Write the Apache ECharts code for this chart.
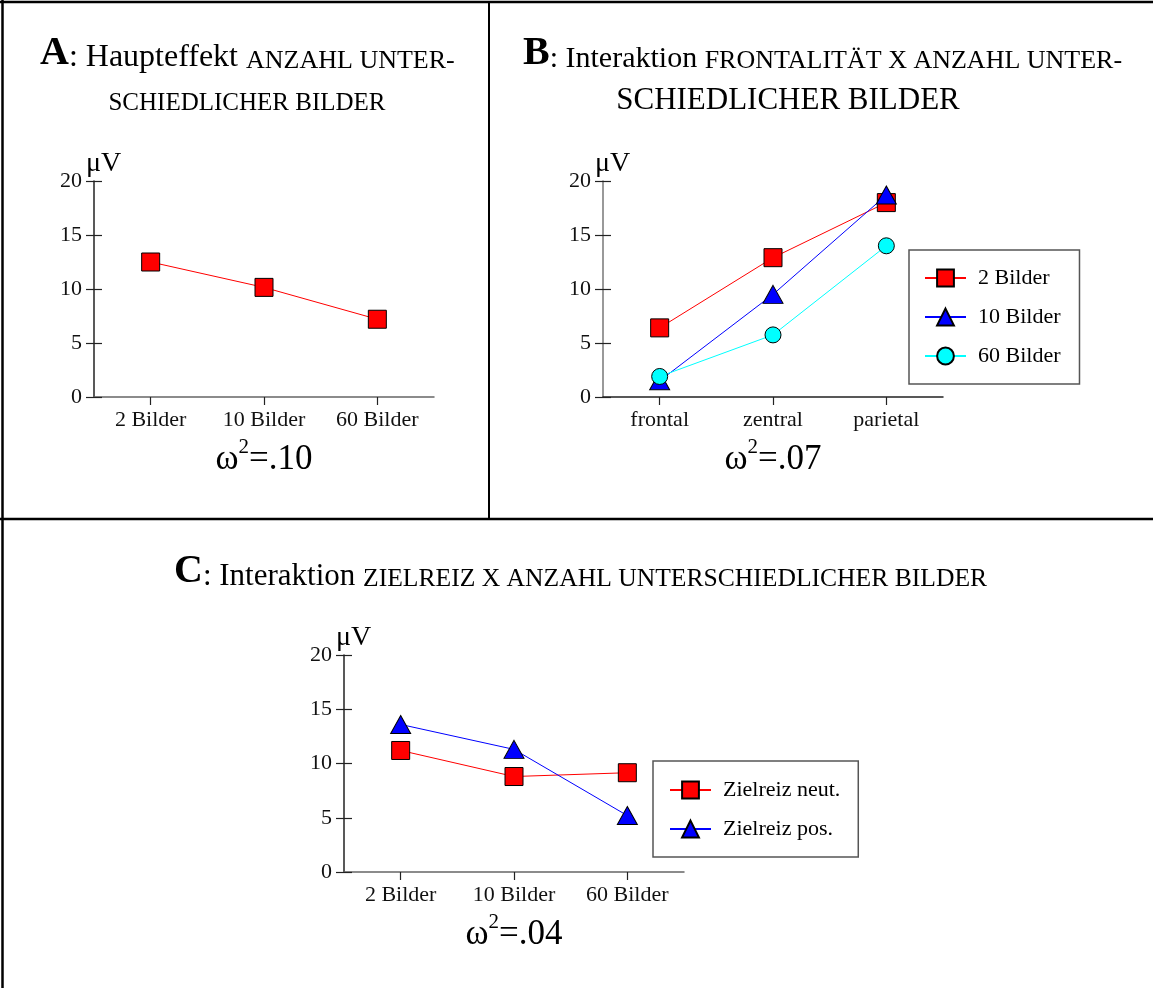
<!DOCTYPE html>
<html>
<head>
<meta charset="utf-8">
<script src="https://cdn.jsdelivr.net/npm/echarts@6/dist/echarts.min.js"></script>
<style>
  html, body { margin: 0; padding: 0; background: #fff; }
  #chart { width: 1153px; height: 988px; }
</style>
</head>
<body>
<div id="chart"></div>
<script>
// Categories
const countLevels = ['2 Bilder', '10 Bilder', '60 Bilder'];
const sites = ['frontal', 'zentral', 'parietal'];

// Value axis ticks (µV)
const yTicks = [0, 5, 10, 15, 20];

// A: main effect of number of different pictures
const mainEffect = [12.5, 10.15, 7.2];

// B: frontality x number of pictures
const pics2 = [6.4, 12.9, 18.0];
const pics10 = [1.5, 9.5, 18.7];
const pics60 = [1.9, 5.75, 14.0];

// C: target stimulus x number of pictures
const targetNeutral = [11.2, 8.8, 9.15];
const targetPositive = [13.6, 11.3, 5.2];

// Effect sizes
const omegaA = '.10';
const omegaB = '.07';
const omegaC = '.04';

const SERIF = '"Liberation Serif", "Times New Roman", serif';
const RED = '#ff0000', BLUE = '#0000ff', CYAN = '#00ffff';

const chart = echarts.init(document.getElementById('chart'), null, { renderer: 'canvas' });

const grids = [
  { left: 94, top: 181, width: 340, height: 216 },
  { left: 603, top: 181, width: 340, height: 216 },
  { left: 344, top: 655, width: 340, height: 217 }
];

const omegaRich = {
  w: { fontFamily: SERIF, fontSize: 35, lineHeight: 40, color: '#000', verticalAlign: 'bottom' },
  s: { fontFamily: SERIF, fontSize: 21, lineHeight: 21, color: '#000', verticalAlign: 'top' }
};

function xAxisFor(gridIndex, cats, lineColor, omega) {
  return {
    type: 'category', gridIndex, data: cats, boundaryGap: true,
    axisLine: { show: true, lineStyle: { color: lineColor, width: 1.5 } },
    axisTick: { show: true, alignWithLabel: true, length: 8, lineStyle: { color: '#222', width: 1.2 } },
    axisLabel: { margin: 12, fontFamily: SERIF, fontSize: 22, color: '#111' },
    splitLine: { show: false },
    name: '{w|ω}{s|2}{w|=' + omega + '}',
    nameLocation: 'middle', nameGap: 40,
    nameTextStyle: { rich: omegaRich }
  };
}

function yAxesFor(gridIndex, lineColor) {
  const min = yTicks[0], max = yTicks[yTicks.length - 1], interval = yTicks[1] - yTicks[0];
  return [
    {
      type: 'value', gridIndex, min, max, interval, position: 'left',
      axisLine: { show: true, lineStyle: { color: lineColor, width: 1.5 } },
      axisTick: { show: true, length: 8, lineStyle: { color: '#222', width: 1.2 } },
      axisLabel: { margin: 12, fontFamily: SERIF, fontSize: 22, color: '#111' },
      splitLine: { show: false },
      name: 'μV', nameLocation: 'end', nameGap: 3,
      nameTextStyle: { fontFamily: SERIF, fontSize: 28, color: '#000', align: 'left', verticalAlign: 'bottom', padding: [0, 0, 0, -8] }
    },
    {
      // inner half of the crossing tick marks
      type: 'value', gridIndex, min, max, interval, position: 'left',
      axisLine: { show: false },
      axisTick: { show: true, inside: true, length: 8, lineStyle: { color: '#222', width: 1.2 } },
      axisLabel: { show: false },
      splitLine: { show: false }
    }
  ];
}

function lineSeries(name, data, color, symbol, size, xi, yi) {
  return {
    type: 'line', name, data, xAxisIndex: xi, yAxisIndex: yi,
    symbol, symbolSize: size, showAllSymbol: true,
    lineStyle: { color, width: 1 },
    itemStyle: { color, borderColor: '#000', borderWidth: 1 },
    emphasis: { disabled: true }
  };
}

function legendBox(names, left, top, padding) {
  return {
    data: names, orient: 'vertical', left, top, padding,
    backgroundColor: '#fff', borderColor: '#555', borderWidth: 1.5,
    itemWidth: 41, itemHeight: 21, itemGap: 17,
    selectedMode: false,
    textStyle: { fontFamily: SERIF, fontSize: 22, color: '#000', lineHeight: 22, padding: [0, 0, 0, 7] }
  };
}

function titleText(x, y, text, rich, align) {
  return {
    type: 'text', x, y, silent: true,
    style: { text, rich, textAlign: align, textVerticalAlign: 'bottom', fill: '#000' }
  };
}

function titleRich(bold, main, caps) {
  return {
    b: { fontFamily: SERIF, fontWeight: 'bold', fontSize: bold, lineHeight: bold, verticalAlign: 'bottom' },
    m: { fontFamily: SERIF, fontSize: main, lineHeight: main, verticalAlign: 'bottom' },
    s: { fontFamily: SERIF, fontSize: caps, lineHeight: caps, verticalAlign: 'bottom' }
  };
}

const option = {
  animation: false,
  backgroundColor: '#fff',
  grid: grids,
  xAxis: [
    xAxisFor(0, countLevels, '#666', omegaA),
    xAxisFor(1, sites, '#222', omegaB),
    xAxisFor(2, countLevels, '#666', omegaC)
  ],
  yAxis: [
    ...yAxesFor(0, '#222'),
    ...yAxesFor(1, '#777'),
    ...yAxesFor(2, '#222')
  ],
  legend: [
    legendBox(['2 Bilder', '10 Bilder', '60 Bilder'], 909, 250, [17, 19, 17, 15]),
    legendBox(['Zielreiz neut.', 'Zielreiz pos.'], 653, 761, [18, 18, 17, 16])
  ],
  series: [
    lineSeries('Haupteffekt', mainEffect, RED, 'rect', 18, 0, 0),
    lineSeries('2 Bilder', pics2, RED, 'rect', 18, 1, 2),
    lineSeries('10 Bilder', pics10, BLUE, 'triangle', [20, 18], 1, 2),
    lineSeries('60 Bilder', pics60, CYAN, 'circle', 16, 1, 2),
    lineSeries('Zielreiz neut.', targetNeutral, RED, 'rect', 18, 2, 4),
    lineSeries('Zielreiz pos.', targetPositive, BLUE, 'triangle', [20, 18], 2, 4)
  ],
  graphic: [
    // frame and panel dividers
    { type: 'line', shape: { x1: 2.5, y1: 0, x2: 2.5, y2: 988 }, style: { stroke: '#000', lineWidth: 2.5 } },
    { type: 'line', shape: { x1: 0, y1: 2, x2: 1153, y2: 2 }, style: { stroke: '#000', lineWidth: 2.5 } },
    { type: 'line', shape: { x1: 489, y1: 2, x2: 489, y2: 519 }, style: { stroke: '#000', lineWidth: 2 } },
    { type: 'line', shape: { x1: 0, y1: 519, x2: 1153, y2: 519 }, style: { stroke: '#000', lineWidth: 2.5 } },
    // panel titles
    titleText(40, 74, '{b|A}{m|: Haupteffekt }{s|ANZAHL UNTER-}', titleRich(40, 32, 26), 'left'),
    titleText(247, 116, '{s|SCHIEDLICHER BILDER}', titleRich(40, 32, 25), 'center'),
    titleText(523, 74, '{b|B}{m|: Interaktion }{s|FRONTALITÄT X ANZAHL UNTER-}', titleRich(40, 30, 26), 'left'),
    titleText(788, 116, '{s|SCHIEDLICHER BILDER}', titleRich(40, 30, 31), 'center'),
    titleText(174, 592, '{b|C}{m|: Interaktion }{s|ZIELREIZ X ANZAHL UNTERSCHIEDLICHER BILDER}', titleRich(40, 31, 25.6), 'left')
  ]
};

chart.setOption(option);
</script>
</body>
</html>
